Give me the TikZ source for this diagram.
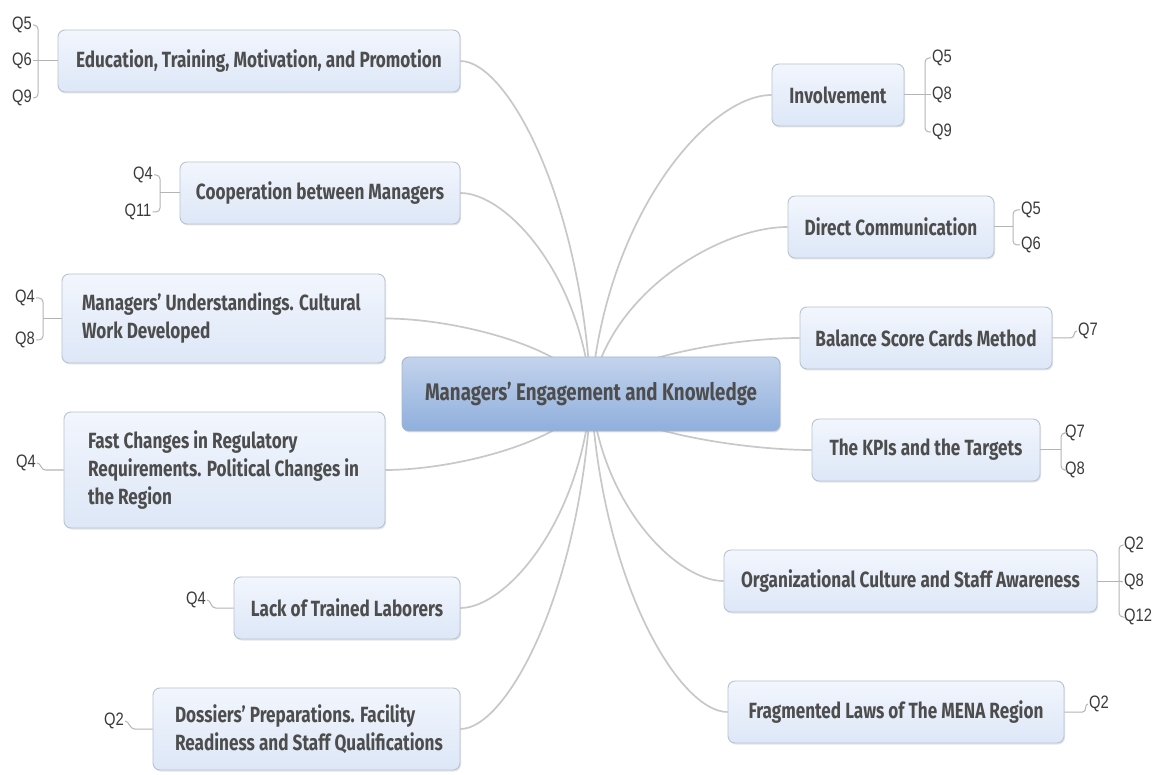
\documentclass[tikz,border=0pt]{standalone}
\usepackage{fontspec}
\newfontfamily\mainf{Fira Sans}[FakeStretch=0.78]
\newfontfamily\qf{Liberation Sans}[FakeStretch=0.82]
\usetikzlibrary{backgrounds,shadows,calc}
\definecolor{txt}{HTML}{4D4D4D}
\definecolor{qtxt}{HTML}{3A3A3A}
\definecolor{bord}{HTML}{B8C3D4}
\definecolor{boxtop}{HTML}{F2F6FD}
\definecolor{boxbot}{HTML}{DDE7F7}
\definecolor{hubtop}{HTML}{C3D3EC}
\definecolor{hubbot}{HTML}{8FAFDD}
\definecolor{hubbord}{HTML}{A3B6D2}
\definecolor{linkc}{HTML}{C8C8C8}
\definecolor{qcol}{HTML}{B4B4B4}
\tikzset{
  topic/.style={draw=bord, line width=0.9pt, rounded corners=7pt,
    top color=boxtop, bottom color=boxbot, text=txt,
    font=\mainf\bfseries\fontsize{22}{28}\selectfont, inner sep=0pt,
    drop shadow={shadow xshift=1pt, shadow yshift=-1.5pt, opacity=0.25, fill=black!40}},
  hubbox/.style={draw=hubbord, line width=0.9pt, rounded corners=7pt,
    top color=hubtop, bottom color=hubbot, text=txt,
    font=\mainf\bfseries\fontsize{24}{28}\selectfont, inner sep=0pt,
    drop shadow={shadow xshift=1pt, shadow yshift=-1.5pt, opacity=0.3, fill=black!40}},
  link/.style={draw=linkc, line width=1.7pt},
  ql/.style={font=\qf\fontsize{18}{18}\selectfont, text=qtxt, inner sep=1pt},
  qline/.style={draw=qcol, line width=1pt}
}
\begin{document}
\begin{tikzpicture}[x=1pt,y=-1pt]
\useasboundingbox (0,0) rectangle (1157,775);

% central topic
\node[hubbox, minimum width=378, minimum height=74] (hub) at (591,394) {Managers’ Engagement and Knowledge};

% left topics
\node[topic, minimum width=402, minimum height=62] (edu) at (259,61) {Education, Training, Motivation, and Promotion};
\node[topic, minimum width=280, minimum height=62] (coop) at (320,193) {Cooperation between Managers};
\node[topic, minimum width=323, minimum height=89, text width=283, align=flush left] (mgr) at (223.5,318.5) {\mbox{Managers’ Understandings. Cultural}\\Work Developed};
\node[topic, minimum width=321, minimum height=116, text width=273, align=flush left] (fast) at (224.5,470) {Fast Changes in Regulatory\\\mbox{Requirements. Political Changes in}\\the Region};
\node[topic, minimum width=226, minimum height=62] (lack) at (347,608) {Lack of Trained Laborers};
\node[topic, minimum width=307, minimum height=82, text width=263, align=flush left] (doss) at (306.5,729) {Dossiers’ Preparations. Facility\\\mbox{Readiness and Staff Qualifications}};

% right topics
\node[topic, minimum width=132, minimum height=62] (inv) at (838,95) {Involvement};
\node[topic, minimum width=206, minimum height=62] (dc) at (891,227) {Direct Communication};
\node[topic, minimum width=252, minimum height=62] (bsc) at (926,338) {Balance Score Cards Method};
\node[topic, minimum width=228, minimum height=62] (kpi) at (926,450) {The KPIs and the Targets};
\node[topic, minimum width=373, minimum height=62] (org) at (910.5,581) {Organizational Culture and Staff Awareness};
\node[topic, minimum width=336, minimum height=62] (frag) at (896,712) {Fragmented Laws of The MENA Region};

% connectors (behind)
\begin{pgfonlayer}{background}
\fill[white] (0,0) rectangle (1157,775);
\draw[link] (hub.center) .. controls (580.5,194.2) and (505.9,61) .. (edu.east);
\draw[link] (hub.center) .. controls (580.5,273.4) and (505.9,193) .. (coop.east);
\draw[link] (hub.center) .. controls (574.5,348.7) and (457.1,318.5) .. (mgr.east);
\draw[link] (hub.center) .. controls (574.5,439.6) and (457.1,470) .. (fast.east);
\draw[link] (hub.center) .. controls (580.5,522.4) and (505.9,608) .. (lack.east);
\draw[link] (hub.center) .. controls (580.5,594.1) and (505.9,729) .. (doss.east);
\draw[link] (hub.center) .. controls (605.5,214.6) and (708.7,95) .. (inv.west);
\draw[link] (hub.center) .. controls (606.8,293.8) and (719.1,227) .. (dc.west);
\draw[link] (hub.center) .. controls (607.7,360.4) and (726.9,338) .. (bsc.west);
\draw[link] (hub.center) .. controls (608.7,427.6) and (734.7,450) .. (kpi.west);
\draw[link] (hub.center) .. controls (601.6,506.2) and (677.5,581) .. (org.west);
\draw[link] (hub.center) .. controls (602,584.8) and (680,712) .. (frag.west);
\end{pgfonlayer}

% ---- Q labels, left side
\node[ql] (eduq5) at (22,25) {Q5};
\node[ql] (eduq6) at (22,61) {Q6};
\node[ql] (eduq9) at (22,98) {Q9};
\coordinate (eduB) at (38,61);
\draw[qline] (edu.west) -- (eduB);
\draw[qline, rounded corners=4pt] (eduq5.east) -| (eduB) |- (eduq9.east);
\draw[qline] (eduB) -- (eduq6.east);

\node[ql] (coopq4) at (143,175) {Q4};
\node[ql] (coopq11) at (138,212) {Q11};
\coordinate (coopB) at (160,193);
\draw[qline] (coop.west) -- (coopB);
\draw[qline, rounded corners=4pt] (coopq4.east) -| (coopB) |- (coopq11.east);

\node[ql] (mgrq4) at (25,298) {Q4};
\node[ql] (mgrq8) at (25,340) {Q8};
\coordinate (mgrB) at (43,318.5);
\draw[qline] (mgr.west) -- (mgrB);
\draw[qline, rounded corners=4pt] (mgrq4.east) -| (mgrB) |- (mgrq8.east);

\node[ql] (fastq4) at (26,463) {Q4};
\draw[qline] (fast.west) -- ++(-18,0) .. controls +(-5,0) and +(4,0) .. (fastq4.east);

\node[ql] (lackq4) at (196,600) {Q4};
\draw[qline] (lack.west) -- ++(-18,0) .. controls +(-5,0) and +(4,0) .. (lackq4.east);

\node[ql] (dossq2) at (114,721) {Q2};
\draw[qline] (doss.west) -- ++(-18,0) .. controls +(-5,0) and +(4,0) .. (dossq2.east);

% ---- Q labels, right side
\node[ql] (invq5) at (942,58) {Q5};
\node[ql] (invq8) at (942,95) {Q8};
\node[ql] (invq9) at (942,132) {Q9};
\coordinate (invB) at (925,95);
\draw[qline] (inv.east) -- (invB);
\draw[qline, rounded corners=4pt] (invq5.west) -| (invB) |- (invq9.west);
\draw[qline] (invB) -- (invq8.west);

\node[ql] (dcq5) at (1031,210) {Q5};
\node[ql] (dcq6) at (1031,245) {Q6};
\coordinate (dcB) at (1013,227);
\draw[qline] (dc.east) -- (dcB);
\draw[qline, rounded corners=4pt] (dcq5.west) -| (dcB) |- (dcq6.west);

\node[ql] (bscq7) at (1088,331) {Q7};
\draw[qline] (bsc.east) -- ++(18,0) .. controls +(5,0) and +(-4,0) .. (bscq7.west);

\node[ql] (kpiq7) at (1075,433) {Q7};
\node[ql] (kpiq8) at (1075,470) {Q8};
\coordinate (kpiB) at (1061,450);
\draw[qline] (kpi.east) -- (kpiB);
\draw[qline, rounded corners=4pt] (kpiq7.west) -| (kpiB) |- (kpiq8.west);

\node[ql] (orgq2) at (1134,545) {Q2};
\node[ql] (orgq8) at (1134,582) {Q8};
\node[ql] (orgq12) at (1138,617) {Q12};
\coordinate (orgB) at (1119,581);
\draw[qline] (org.east) -- (orgB);
\draw[qline, rounded corners=4pt] (orgq2.west) -| (orgB) |- (orgq12.west);
\draw[qline] (orgB) -- (orgq8.west);

\node[ql] (fragq2) at (1099,704) {Q2};
\draw[qline] (frag.east) -- ++(18,0) .. controls +(5,0) and +(-4,0) .. (fragq2.west);
\end{tikzpicture}
\end{document}
